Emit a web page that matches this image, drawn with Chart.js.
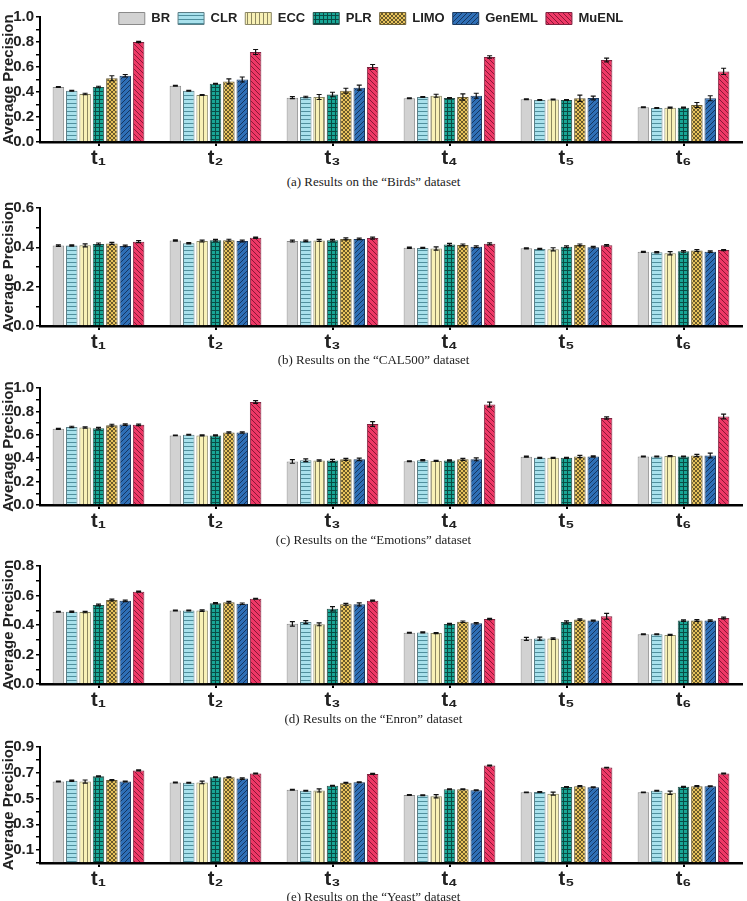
<!DOCTYPE html>
<html>
<head>
<meta charset="utf-8">
<script src="https://cdn.jsdelivr.net/npm/chart.js@4.4.0/dist/chart.umd.min.js"></script>
<style>
  body { margin: 0; background: #fff; width: 747px; height: 901px; position: relative; overflow: hidden; }
  canvas { position: absolute; left: 0; }
  .cap { position: absolute; left: 0; width: 747px; text-align: center; font-family: "Liberation Serif", "DejaVu Serif", serif; font-size: 13px; line-height: 14px; color: #222; }
</style>
</head>
<body>
<script>
const methods = ["BR", "CLR", "ECC", "PLR", "LIMO", "GenEML", "MuENL"];
const tasks = ["t₁", "t₂", "t₃", "t₄", "t₅", "t₆"];

// rows follow `methods`, columns t1..t6
const birdsAP = [
  [0.44, 0.45, 0.355, 0.35, 0.342, 0.278],
  [0.41, 0.41, 0.36, 0.36, 0.336, 0.272],
  [0.384, 0.376, 0.36, 0.37, 0.34, 0.275],
  [0.44, 0.466, 0.38, 0.352, 0.336, 0.275],
  [0.51, 0.485, 0.41, 0.36, 0.35, 0.296],
  [0.53, 0.50, 0.435, 0.37, 0.352, 0.35],
  [0.80, 0.72, 0.60, 0.68, 0.656, 0.565]
];
const birdsErr = [
  [0.004, 0.003, 0.008, 0.004, 0.004, 0.004],
  [0.004, 0.003, 0.006, 0.004, 0.003, 0.003],
  [0.006, 0.004, 0.02, 0.012, 0.004, 0.004],
  [0.006, 0.004, 0.018, 0.004, 0.004, 0.004],
  [0.02, 0.02, 0.02, 0.025, 0.025, 0.02],
  [0.01, 0.02, 0.02, 0.02, 0.015, 0.02],
  [0.005, 0.02, 0.02, 0.01, 0.015, 0.025]
];

const cal500AP = [
  [0.409, 0.435, 0.432, 0.398, 0.395, 0.377],
  [0.409, 0.421, 0.433, 0.397, 0.392, 0.375],
  [0.41, 0.432, 0.435, 0.394, 0.39, 0.37],
  [0.417, 0.436, 0.436, 0.415, 0.403, 0.38],
  [0.42, 0.436, 0.443, 0.412, 0.412, 0.384],
  [0.407, 0.432, 0.443, 0.403, 0.401, 0.378],
  [0.429, 0.449, 0.447, 0.418, 0.41, 0.386]
];
const cal500Err = [
  [0.004, 0.003, 0.005, 0.003, 0.003, 0.003],
  [0.003, 0.003, 0.004, 0.003, 0.003, 0.003],
  [0.008, 0.005, 0.005, 0.008, 0.008, 0.008],
  [0.005, 0.004, 0.004, 0.005, 0.004, 0.004],
  [0.005, 0.005, 0.005, 0.005, 0.005, 0.005],
  [0.004, 0.005, 0.004, 0.004, 0.004, 0.004],
  [0.005, 0.003, 0.005, 0.005, 0.004, 0.003]
];

const emotionsAP = [
  [0.651, 0.595, 0.372, 0.374, 0.413, 0.415],
  [0.667, 0.60, 0.382, 0.382, 0.403, 0.415],
  [0.662, 0.595, 0.38, 0.377, 0.403, 0.418],
  [0.656, 0.595, 0.38, 0.38, 0.403, 0.415],
  [0.682, 0.62, 0.39, 0.39, 0.415, 0.423],
  [0.687, 0.62, 0.39, 0.39, 0.415, 0.423],
  [0.685, 0.88, 0.692, 0.859, 0.744, 0.756]
];
const emotionsErr = [
  [0.005, 0.003, 0.015, 0.003, 0.004, 0.003],
  [0.006, 0.003, 0.012, 0.005, 0.005, 0.004],
  [0.006, 0.004, 0.006, 0.005, 0.004, 0.004],
  [0.008, 0.004, 0.01, 0.005, 0.004, 0.004],
  [0.008, 0.006, 0.008, 0.008, 0.01, 0.01],
  [0.006, 0.006, 0.01, 0.012, 0.005, 0.02],
  [0.006, 0.012, 0.02, 0.02, 0.01, 0.02]
];

const enronAP = [
  [0.49, 0.498, 0.408, 0.347, 0.306, 0.337],
  [0.49, 0.498, 0.42, 0.35, 0.308, 0.337],
  [0.488, 0.498, 0.405, 0.345, 0.308, 0.333],
  [0.536, 0.548, 0.51, 0.406, 0.42, 0.43],
  [0.57, 0.554, 0.54, 0.422, 0.437, 0.43],
  [0.564, 0.544, 0.54, 0.412, 0.43, 0.43],
  [0.626, 0.578, 0.565, 0.441, 0.459, 0.447]
];
const enronErr = [
  [0.003, 0.003, 0.015, 0.003, 0.01, 0.003],
  [0.004, 0.003, 0.01, 0.003, 0.01, 0.003],
  [0.005, 0.005, 0.01, 0.004, 0.005, 0.004],
  [0.006, 0.004, 0.015, 0.005, 0.008, 0.005],
  [0.006, 0.006, 0.006, 0.005, 0.005, 0.006],
  [0.005, 0.005, 0.01, 0.005, 0.004, 0.005],
  [0.003, 0.003, 0.004, 0.004, 0.02, 0.006]
];

const yeastAP = [
  [0.632, 0.625, 0.568, 0.527, 0.548, 0.548],
  [0.638, 0.622, 0.561, 0.525, 0.55, 0.561],
  [0.632, 0.625, 0.563, 0.518, 0.538, 0.545],
  [0.673, 0.666, 0.60, 0.573, 0.589, 0.591],
  [0.643, 0.666, 0.622, 0.573, 0.596, 0.596],
  [0.632, 0.655, 0.627, 0.564, 0.587, 0.596],
  [0.718, 0.695, 0.691, 0.756, 0.74, 0.695]
];
const yeastErr = [
  [0.003, 0.003, 0.003, 0.003, 0.003, 0.003],
  [0.005, 0.003, 0.003, 0.003, 0.003, 0.003],
  [0.012, 0.01, 0.012, 0.012, 0.012, 0.012],
  [0.004, 0.003, 0.003, 0.003, 0.004, 0.004],
  [0.004, 0.003, 0.003, 0.003, 0.004, 0.004],
  [0.003, 0.006, 0.003, 0.003, 0.003, 0.003],
  [0.004, 0.003, 0.004, 0.003, 0.003, 0.003]
];

// labelled y ticks per panel
const birdsTicks = [0.0, 0.2, 0.4, 0.6, 0.8, 1.0];
const cal500Ticks = [0.0, 0.2, 0.4, 0.6];
const emotionsTicks = [0.0, 0.2, 0.4, 0.6, 0.8, 1.0];
const enronTicks = [0.0, 0.2, 0.4, 0.6, 0.8];
const yeastTicks = [0.1, 0.3, 0.5, 0.7, 0.9];

const captions = [
  "(a) Results on the “Birds” dataset",
  "(b) Results on the “CAL500” dataset",
  "(c) Results on the “Emotions” dataset",
  "(d) Results on the “Enron” dataset",
  "(e) Results on the “Yeast” dataset"
];

// layout: axis top / bottom pixel rows, caption centre row
const panels = [
  { ap: birdsAP, err: birdsErr, ticks: birdsTicks, max: 1.0, top: 17, bottom: 142, cap: 182, legend: true },
  { ap: cal500AP, err: cal500Err, ticks: cal500Ticks, max: 0.6, top: 195, bottom: 326, cap: 360 },
  { ap: emotionsAP, err: emotionsErr, ticks: emotionsTicks, max: 1.0, top: 375, bottom: 505, cap: 540 },
  { ap: enronAP, err: enronErr, ticks: enronTicks, max: 0.8, top: 553, bottom: 684, cap: 719 },
  { ap: yeastAP, err: yeastErr, ticks: yeastTicks, max: 0.9, top: 734, bottom: 863, cap: 897 }
];

// fill patterns
function tile(w, h, base, ink, pixels) {
  const c = document.createElement("canvas");
  c.width = w; c.height = h;
  const g = c.getContext("2d");
  g.fillStyle = base; g.fillRect(0, 0, w, h);
  g.fillStyle = ink;
  pixels.forEach(([x, y]) => g.fillRect(x, y, 1, 1));
  return g.createPattern(c, "repeat");
}
const range = n => [...Array(n).keys()];
const fills = [
  "#d2d2d2",
  tile(1, 4, "#a9e1ec", "#4f8f9d", [[0, 3]]),
  tile(4, 1, "#f8f1b6", "#8d8760", [[3, 0]]),
  tile(4, 4, "#19a696", "#0a4c45", range(4).map(i => [3, i]).concat(range(4).map(i => [i, 3]))),
  tile(4, 4, "#e8c35c", "#6a5a2a", range(4).map(i => [i, i]).concat(range(4).map(i => [3 - i, i]))),
  tile(5, 5, "#2f6fb6", "#16365f", range(5).map(i => [i, 4 - i])),
  tile(5, 5, "#ee3866", "#8a1737", range(5).map(i => [i, i]))
];
const borders = ["#8a8a8a", "#5c7e86", "#8c8866", "#2b524d", "#6d5f36", "#1d3a5e", "#7e2440"];

const errorBars = {
  id: "errorBars",
  afterDatasetsDraw(chart) {
    const ctx = chart.ctx, y = chart.scales.y;
    ctx.save();
    ctx.strokeStyle = "#111";
    ctx.lineWidth = 1.2;
    chart.data.datasets.forEach((ds, i) => {
      chart.getDatasetMeta(i).data.forEach((bar, j) => {
        const yt = y.getPixelForValue(ds.data[j] + ds.errors[j]);
        const yb = y.getPixelForValue(ds.data[j] - ds.errors[j]);
        ctx.beginPath();
        ctx.moveTo(bar.x, yt); ctx.lineTo(bar.x, yb);
        ctx.moveTo(bar.x - 2.5, yt); ctx.lineTo(bar.x + 2.5, yt);
        ctx.moveTo(bar.x - 2.5, yb); ctx.lineTo(bar.x + 2.5, yb);
        ctx.stroke();
      });
    });
    ctx.restore();
  }
};

// legend sits inside the plot: it takes a small height in the layout,
// then its clip box is widened again so nothing is cut off
const legendInside = {
  id: "legendInside",
  beforeLayout(chart) {
    const lg = chart.legend;
    if (lg && !lg._inside) {
      const fit = lg.fit;
      lg.fit = function () { fit.call(this); this.height = 13; };
      lg._inside = true;
    }
  },
  afterLayout(chart) {
    const lg = chart.legend;
    if (lg) lg.bottom = lg.top + 40;
  }
};

const sans = "'Liberation Sans', Arial, 'DejaVu Sans', sans-serif";

panels.forEach((p, k) => {
  const padTop = p.legend ? 4 : 12;
  const canvasTop = p.legend ? 0 : p.top - padTop;
  const cv = document.createElement("canvas");
  cv.width = 747;
  cv.height = p.bottom - canvasTop + 30;
  cv.style.top = canvasTop + "px";
  document.body.appendChild(cv);

  const cap = document.createElement("div");
  cap.className = "cap";
  cap.style.top = (p.cap - 7) + "px";
  cap.textContent = captions[k];
  document.body.appendChild(cap);

  const labelled = p.ticks.map(v => Math.round(v * 10));

  new Chart(cv.getContext("2d"), {
    type: "bar",
    data: {
      labels: tasks,
      datasets: methods.map((m, i) => ({
        label: m,
        data: p.ap[i],
        errors: p.err[i],
        backgroundColor: fills[i],
        borderColor: borders[i],
        borderWidth: 1,
        categoryPercentage: 0.8,
        barPercentage: 0.86
      }))
    },
    options: {
      responsive: false,
      animation: false,
      devicePixelRatio: 1,
      layout: { padding: { top: padTop, left: 0, right: 5, bottom: 0 } },
      plugins: {
        tooltip: { enabled: false },
        legend: {
          display: !!p.legend,
          position: "top",
          labels: {
            boxWidth: 26,
            boxHeight: 12,
            padding: 8,
            color: "#222",
            font: { family: sans, size: 13, weight: "bold" }
          }
        }
      },
      scales: {
        x: {
          afterFit(s) { s.height = 30; },
          border: { display: true, color: "#000", width: 2.5 },
          grid: { display: true, drawOnChartArea: false, offset: false, tickLength: 4, color: "#000", lineWidth: 2 },
          ticks: { color: "#222", padding: 0, maxRotation: 0, font: { family: sans, size: 20, weight: "bold" } }
        },
        y: {
          min: 0,
          max: p.max,
          afterFit(s) { s.width = 40; },
          border: { display: true, color: "#000", width: 2 },
          grid: { drawOnChartArea: false, tickLength: 4, color: "#000", lineWidth: 1.5 },
          title: { display: true, text: "Average Precision", color: "#222", padding: 0, font: { family: sans, size: 15, weight: "bold" } },
          ticks: {
            stepSize: 0.1,
            autoSkip: false,
            padding: 2,
            color: "#222",
            font: { family: sans, size: 15, weight: "bold" },
            callback: v => labelled.includes(Math.round(v * 10)) ? v.toFixed(1) : ""
          }
        }
      }
    },
    plugins: [errorBars, legendInside]
  });
});
</script>
</body>
</html>
